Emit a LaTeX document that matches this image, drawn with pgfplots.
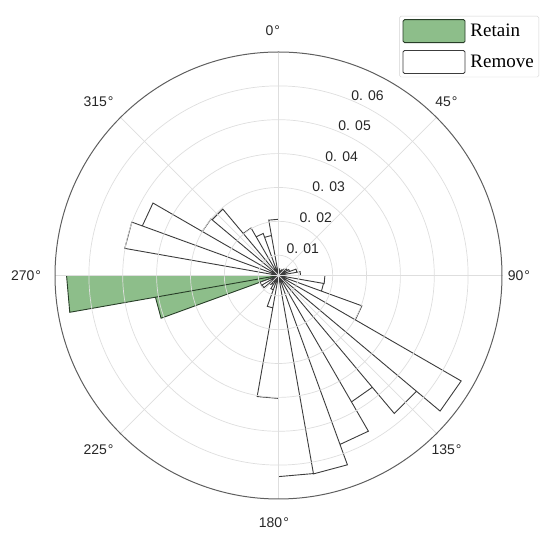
\documentclass[border=0pt]{standalone}
\usepackage{pgfplots}
\pgfplotsset{compat=1.18}
\usepackage{fontspec}
\setmainfont{Liberation Sans}
\newfontfamily\legendfont{Liberation Serif}
\definecolor{retainfill}{RGB}{141,190,138}
\definecolor{retainedge}{RGB}{40,62,40}
\definecolor{edgegray}{RGB}{60,60,60}
\definecolor{gridgray}{RGB}{222,222,222}
\definecolor{ringgray}{RGB}{95,95,95}
\begin{document}
\begin{tikzpicture}
\begin{axis}[
  x=1pt, y=1pt,
  xmin=-278.5, xmax=271.5, ymin=-264.5, ymax=275.5,
  hide axis, clip=false,
  legend style={at={(axis cs:260.5,259.5)}, anchor=north east, draw=gray!35,
    rounded corners=1.5pt, font=\legendfont\fontsize{19}{21}\selectfont,
    inner xsep=3pt, inner ysep=3pt, row sep=7pt, column sep=3pt,
    nodes={inner sep=2pt}, cells={anchor=west}},
  legend image code/.code={\draw[#1] (0pt,-11.5pt) rectangle (62pt,11.5pt);},
]
% fixed picture frame (invisible)
\path (axis cs:-278.5,-264.5) rectangle (axis cs:271.5,275.5);
% Retain bars (bearing in degrees clockwise from north, value)
\addplot[fill=retainfill, draw=retainedge, line width=0.9pt, line join=miter]
  table[x expr={3386*max(\thisrow{r}-0.004,0)*sin(\thisrow{b})},
        y expr={3386*max(\thisrow{r}-0.004,0)*cos(\thisrow{b})}] {
b r
250 0
250 0.0409
260 0.0409
260 0
260 0.0666
270 0.0666
270 0
};
\addlegendentry{Retain}
% Remove bars
\addplot[fill=white, draw=edgegray, line width=0.9pt, line join=miter]
  table[x expr={3386*max(\thisrow{r}-0.004,0)*sin(\thisrow{b})},
        y expr={3386*max(\thisrow{r}-0.004,0)*cos(\thisrow{b})}] {
b r
0 0
0 0.0060
10 0.0060
10 0
10 0.0055
20 0.0055
20 0
20 0.0055
30 0.0055
30 0
30 0.0060
40 0.0060
40 0
40 0.0065
50 0.0065
50 0
50 0.0070
60 0.0070
60 0
60 0.0075
70 0.0075
70 0
70 0.0095
80 0.0095
80 0
80 0.0105
90 0.0105
90 0
90 0.0177
100 0.0177
100 0
100 0.0175
110 0.0175
110 0
110 0.0302
120 0.0302
120 0
120 0.0663
130 0.0663
130 0
130 0.0572
140 0.0572
140 0
140 0.0471
150 0.0471
150 0
150 0.0571
160 0.0571
160 0
160 0.0635
170 0.0635
170 0
170 0.0634
180 0.0634
180 0
180 0.0403
190 0.0403
190 0
190 0.0137
200 0.0137
200 0
200 0.0085
210 0.0085
210 0
210 0.0070
220 0.0070
220 0
220 0.0075
230 0.0075
230 0
230 0.0096
240 0.0096
240 0
240 0.0098
250 0.0098
250 0
270 0
270 0.0060
280 0.0060
280 0
280 0.0501
290 0.0501
290 0
290 0.0468
300 0.0468
300 0
300 0.0300
310 0.0300
310 0
310 0.0296
320 0.0296
320 0
320 0.0202
330 0.0202
330 0
330 0.0172
340 0.0172
340 0
340 0.0160
350 0.0160
350 0
350 0.0206
360 0.0206
360 0
};
\addlegendentry{Remove}
% grid (drawn over the bars, light)
\draw[gridgray, line width=0.7pt] (axis cs:0,0) circle[radius=20.3];
\draw[gridgray, line width=0.7pt] (axis cs:0,0) circle[radius=54.2];
\draw[gridgray, line width=0.7pt] (axis cs:0,0) circle[radius=88.0];
\draw[gridgray, line width=0.7pt] (axis cs:0,0) circle[radius=121.9];
\draw[gridgray, line width=0.7pt] (axis cs:0,0) circle[radius=155.8];
\draw[gridgray, line width=0.7pt] (axis cs:0,0) circle[radius=189.6];
\draw[gridgray, line width=0.7pt] (axis cs:0,-223.5) -- (axis cs:0,223.5);
\draw[gridgray, line width=0.7pt] (axis cs:-223.5,0) -- (axis cs:223.5,0);
\draw[gridgray, line width=0.7pt] (axis cs:-158.04,-158.04) -- (axis cs:158.04,158.04);
\draw[gridgray, line width=0.7pt] (axis cs:-158.04,158.04) -- (axis cs:158.04,-158.04);
\draw[ringgray, line width=1pt] (axis cs:0,0) circle[radius=223.5];
% radial tick labels
\begin{scope}[every node/.style={font=\fontsize{14}{16}\selectfont, text=black!85}]
\node at (axis cs:24.3,27.2) {0. 01};
\node at (axis cs:37.25,57.8) {0. 02};
\node at (axis cs:50.2,88.4) {0. 03};
\node at (axis cs:63.15,119.0) {0. 04};
\node at (axis cs:76.1,149.6) {0. 05};
\node at (axis cs:89.05,180.2) {0. 06};
% angular tick labels
\node at (axis cs:-5.6,244.8) {0\kern1pt°};
\node at (axis cs:168,173.4) {45\kern1pt°};
\node at (axis cs:240.5,0) {90\kern1pt°};
\node at (axis cs:168,-174) {135\kern1pt°};
\node at (axis cs:-4.6,-247) {180\kern1pt°};
\node at (axis cs:-180,-174) {225\kern1pt°};
\node at (axis cs:-252.5,0) {270\kern1pt°};
\node at (axis cs:-180,173.4) {315\kern1pt°};
\end{scope}
\end{axis}
\end{tikzpicture}
\end{document}
